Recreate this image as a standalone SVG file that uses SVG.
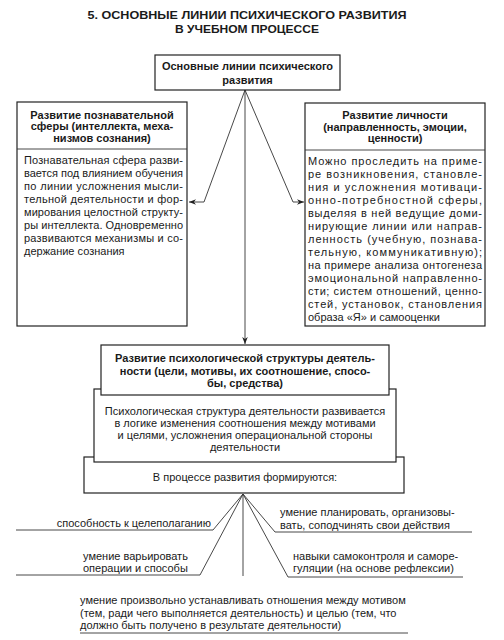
<svg xmlns="http://www.w3.org/2000/svg" width="504" height="640" viewBox="0 0 504 640">
<defs>
<style>
text{font-family:"Liberation Sans",Arial,sans-serif;fill:#1a1a1a}
.t{font-size:11.5px;font-weight:bold;text-anchor:middle}
.h{font-size:11px;font-weight:bold;text-anchor:middle}
.b{font-size:11px}
.c{font-size:11px;text-anchor:middle}
.box{fill:#fff;stroke:#222;stroke-width:1.2}
.ln{fill:none;stroke:#333;stroke-width:0.9}
</style>
<marker id="ar" viewBox="0 0 10 10" refX="10" refY="5" markerWidth="7" markerHeight="7" orient="auto" markerUnits="userSpaceOnUse">
<path d="M0,1 L10,5 L0,9 L3,5 Z" fill="#222"/>
</marker>
</defs>
<rect width="504" height="640" fill="#fff"/>

<g id="title">
<text class="t" x="247" y="18.5" textLength="319" lengthAdjust="spacingAndGlyphs">5. ОСНОВНЫЕ ЛИНИИ ПСИХИЧЕСКОГО РАЗВИТИЯ</text>
<text class="t" x="247" y="33.3" textLength="144" lengthAdjust="spacingAndGlyphs">В УЧЕБНОМ ПРОЦЕССЕ</text>
</g>

<g id="connectors">
<polyline class="ln" points="245,90 204,202 189,202" marker-end="url(#ar)"/>
<polyline class="ln" points="245,90 293,202 304,202" marker-end="url(#ar)"/>
<line class="ln" x1="245" y1="90" x2="245" y2="344" marker-end="url(#ar)"/>
<polyline class="ln" points="243,494 213,530 16,530"/>
<polyline class="ln" points="243,494 200,575 16,575"/>
<line class="ln" x1="243" y1="494" x2="243" y2="576"/>
<polyline class="ln" points="243,494 275,532 472,532"/>
<polyline class="ln" points="243,494 288,577 463,577"/>
</g>

<g id="main">
<rect class="box" x="155" y="55" width="185" height="35"/>
<text class="h" x="247.5" y="70" font-size="11.5">Основные линии психического</text>
<text class="h" x="247.5" y="84" font-size="11.5">развития</text>
</g>

<g id="cognitive">
<rect class="box" x="17" y="102" width="170" height="224"/>
<line class="ln" x1="17" y1="149" x2="187" y2="149" stroke-width="1.2"/>
<text class="h" x="102" y="118.5">Развитие познавательной</text>
<text class="h" x="102" y="130">сферы (интеллекта, меха-</text>
<text class="h" x="102" y="141.5">низмов сознания)</text>
<text class="b" x="24" y="164" textLength="159" lengthAdjust="spacing">Познавательная сфера разви-</text>
<text class="b" x="24" y="177" textLength="159" lengthAdjust="spacing">вается под влиянием обучения</text>
<text class="b" x="24" y="190" textLength="159" lengthAdjust="spacing">по линии усложнения мысли-</text>
<text class="b" x="24" y="203" textLength="159" lengthAdjust="spacing">тельной деятельности и фор-</text>
<text class="b" x="24" y="216" textLength="159" lengthAdjust="spacing">мирования целостной структу-</text>
<text class="b" x="24" y="229" textLength="159" lengthAdjust="spacing">ры интеллекта. Одновременно</text>
<text class="b" x="24" y="242" textLength="159" lengthAdjust="spacing">развиваются механизмы и со-</text>
<text class="b" x="24" y="255">держание сознания</text>
</g>

<g id="personality">
<rect class="box" x="305" y="103" width="180" height="223"/>
<line class="ln" x1="305" y1="150" x2="485" y2="150" stroke-width="1.2"/>
<text class="h" x="395" y="119">Развитие личности</text>
<text class="h" x="395" y="130.5">(направленность, эмоции,</text>
<text class="h" x="395" y="142">ценности)</text>
<text class="b" x="308" y="165" textLength="174" lengthAdjust="spacing">Можно проследить на приме-</text>
<text class="b" x="308" y="178" textLength="174" lengthAdjust="spacing">ре возникновения, становле-</text>
<text class="b" x="308" y="191" textLength="174" lengthAdjust="spacing">ния и усложнения мотиваци-</text>
<text class="b" x="308" y="204" textLength="174" lengthAdjust="spacing">онно-потребностной сферы,</text>
<text class="b" x="308" y="217" textLength="174" lengthAdjust="spacing">выделяя в ней ведущие доми-</text>
<text class="b" x="308" y="230" textLength="174" lengthAdjust="spacing">нирующие линии или направ-</text>
<text class="b" x="308" y="243" textLength="174" lengthAdjust="spacing">ленность (учебную, познава-</text>
<text class="b" x="308" y="256" textLength="174" lengthAdjust="spacing">тельную, коммуникативную);</text>
<text class="b" x="308" y="269" textLength="174" lengthAdjust="spacing">на примере анализа онтогенеза</text>
<text class="b" x="308" y="282" textLength="174" lengthAdjust="spacing">эмоциональной направленно-</text>
<text class="b" x="308" y="295" textLength="174" lengthAdjust="spacing">сти; систем отношений, ценно-</text>
<text class="b" x="308" y="308" textLength="174" lengthAdjust="spacing">стей, установок, становления</text>
<text class="b" x="308" y="321">образа «Я» и самооценки</text>
</g>

<g id="activity">
<rect class="box" x="84" y="457" width="320" height="36"/>
<rect class="box" x="94" y="389" width="302" height="73"/>
<rect class="box" x="101" y="345" width="288" height="50"/>
<text class="h" x="245" y="362">Развитие психологической структуры деятель-</text>
<text class="h" x="245" y="374.5">ности (цели, мотивы, их соотношение, спосо-</text>
<text class="h" x="245" y="387">бы, средства)</text>
<text class="c" x="245" y="415">Психологическая структура деятельности развивается</text>
<text class="c" x="245" y="427">в логике изменения соотношения между мотивами</text>
<text class="c" x="245" y="439">и целями, усложнения операциональной стороны</text>
<text class="c" x="245" y="451">деятельности</text>
<text class="c" x="245" y="481">В процессе развития формируются:</text>
</g>

<g id="goal-setting">
<text class="b" x="211" y="526.5" text-anchor="end">способность к целеполаганию</text>
</g>
<g id="vary-operations">
<text class="b" x="83" y="559.5">умение варьировать</text>
<text class="b" x="83" y="571.5">операции и способы</text>
</g>
<g id="planning">
<text class="b" x="280" y="515.5">умение планировать, организовы-</text>
<text class="b" x="280" y="528.5">вать, соподчинять свои действия</text>
</g>
<g id="self-control">
<text class="b" x="293" y="559.5">навыки самоконтроля и саморе-</text>
<text class="b" x="293" y="571.5">гуляции (на основе рефлексии)</text>
</g>
<g id="motive-goal">
<text class="b" x="80" y="604">умение произвольно устанавливать отношения между мотивом</text>
<text class="b" x="80" y="617">(тем, ради чего выполняется деятельность) и целью (тем, что</text>
<text class="b" x="80" y="629">должно быть получено в результате деятельности)</text>
<line class="ln" x1="80" y1="633" x2="408" y2="633"/>
</g>
</svg>
